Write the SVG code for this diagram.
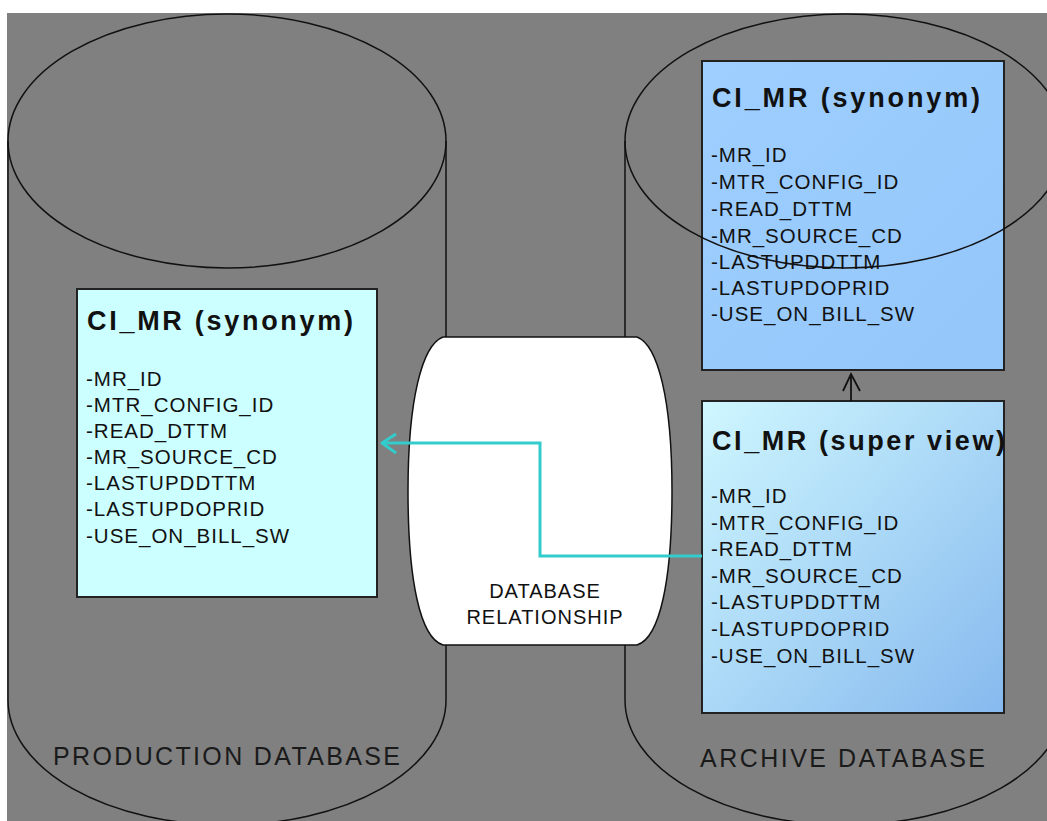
<svg xmlns="http://www.w3.org/2000/svg" width="1047" height="821" viewBox="0 0 1047 821">
<defs>
<style>
.cyl{fill:none;stroke:#111;stroke-width:1.5}
.title{font-family:"Liberation Sans",Arial,sans-serif;font-weight:bold;font-size:27px;fill:#111}
.field{font-family:"Liberation Sans",Arial,sans-serif;font-size:20.5px;letter-spacing:1px;fill:#111}
.label{font-family:"Liberation Sans",Arial,sans-serif;font-size:25px;fill:#1a1a1a}
.rel{font-family:"Liberation Sans",Arial,sans-serif;font-size:20px;letter-spacing:1px;fill:#111;text-anchor:middle}
.box{stroke:#222;stroke-width:2}
</style>
<linearGradient id="gSuper" x1="0" y1="0" x2="1" y2="1">
<stop offset="0" stop-color="#CFF7FF"/>
<stop offset="1" stop-color="#86B9EE"/>
</linearGradient>
<linearGradient id="gSyn" x1="0" y1="0" x2="1" y2="1">
<stop offset="0" stop-color="#9ECFFF"/>
<stop offset="1" stop-color="#94C6FA"/>
</linearGradient>
</defs>
<rect x="0" y="0" width="1047" height="821" fill="#FFFFFF"/>
<rect x="7" y="13" width="1040" height="808" fill="#808080"/>

<g id="production-db">
<ellipse class="cyl" cx="227" cy="141" rx="219" ry="127"/>
<path class="cyl" d="M 8,141 L 8,700 A 219,125 0 0 0 446,700 L 446,141"/>
<text class="label" x="53" y="765" textLength="347" lengthAdjust="spacing">PRODUCTION DATABASE</text>
</g>

<g id="archive-synonym">
<rect class="box" x="702" y="61" width="302" height="309" fill="url(#gSyn)"/>
<text class="title" x="712" y="107" textLength="268" lengthAdjust="spacing">CI_MR (synonym)</text>
<text class="field" x="711" y="162">-MR_ID</text>
<text class="field" x="711" y="189">-MTR_CONFIG_ID</text>
<text class="field" x="711" y="216">-READ_DTTM</text>
<text class="field" x="711" y="243">-MR_SOURCE_CD</text>
<text class="field" x="711" y="269">-LASTUPDDTTM</text>
<text class="field" x="711" y="295">-LASTUPDOPRID</text>
<text class="field" x="711" y="321">-USE_ON_BILL_SW</text>
</g>

<g id="archive-db">
<ellipse class="cyl" cx="845" cy="141" rx="220" ry="127"/>
<path class="cyl" d="M 625,141 L 625,700 A 220,125 0 0 0 1065,700 L 1065,141"/>
<text class="label" x="700" y="767" textLength="285" lengthAdjust="spacing">ARCHIVE DATABASE</text>
</g>

<g id="database-relationship">
<path d="M 443,337 L 637,337 C 658,345 672,400 672,491 C 672,580 660,638 637,645 L 443,645 C 420,638 408,580 408,491 C 408,400 422,345 443,337 Z" fill="#FFFFFF" stroke="#111" stroke-width="1.5"/>
<text class="rel" x="545" y="598">DATABASE</text>
<text class="rel" x="545" y="624">RELATIONSHIP</text>
</g>

<g id="production-synonym">
<rect class="box" x="77" y="289" width="300" height="308" fill="#CCFFFF"/>
<text class="title" x="87" y="330" textLength="266" lengthAdjust="spacing">CI_MR (synonym)</text>
<text class="field" x="86" y="386">-MR_ID</text>
<text class="field" x="86" y="412">-MTR_CONFIG_ID</text>
<text class="field" x="86" y="438">-READ_DTTM</text>
<text class="field" x="86" y="464">-MR_SOURCE_CD</text>
<text class="field" x="86" y="490">-LASTUPDDTTM</text>
<text class="field" x="86" y="516">-LASTUPDOPRID</text>
<text class="field" x="86" y="543">-USE_ON_BILL_SW</text>
</g>

<g id="archive-super-view">
<rect class="box" x="702" y="401" width="302" height="312" fill="url(#gSuper)"/>
<text class="title" x="712" y="450" textLength="293" lengthAdjust="spacing">CI_MR (super view)</text>
<text class="field" x="711" y="503">-MR_ID</text>
<text class="field" x="711" y="530">-MTR_CONFIG_ID</text>
<text class="field" x="711" y="556">-READ_DTTM</text>
<text class="field" x="711" y="583">-MR_SOURCE_CD</text>
<text class="field" x="711" y="609">-LASTUPDDTTM</text>
<text class="field" x="711" y="636">-LASTUPDOPRID</text>
<text class="field" x="711" y="663">-USE_ON_BILL_SW</text>
</g>

<g id="connectors" fill="none">
<polyline points="702,556 540,556 540,443 382,443" stroke="#33CCCC" stroke-width="3"/>
<polyline points="396,434 382,443 396,453" stroke="#33CCCC" stroke-width="3" stroke-linejoin="round"/>
<line x1="851" y1="401" x2="851" y2="374" stroke="#111" stroke-width="1.8"/>
<polyline points="843,391 851,374 860,391" stroke="#111" stroke-width="1.8"/>
</g>
</svg>
